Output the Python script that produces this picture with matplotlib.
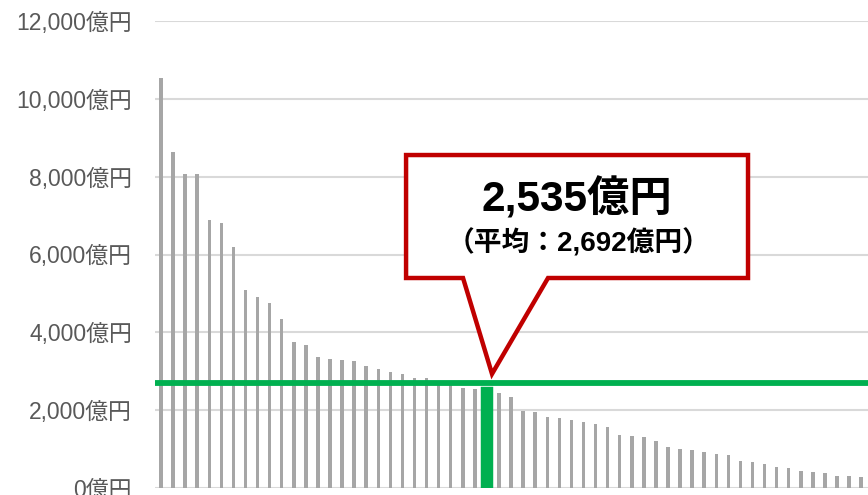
import matplotlib
matplotlib.use("Agg")
import matplotlib.pyplot as plt
from matplotlib.patches import Polygon

plt.rcParams['font.family'] = ['Liberation Sans', 'Noto Sans CJK JP', 'DejaVu Sans']

# values in 億円, sorted descending
values = [10530, 8630, 8070, 8060, 6880, 6800, 6195, 5090, 4920, 4750,
          4345, 3745, 3675, 3360, 3325, 3300, 3255, 3145, 3060, 2975,
          2930, 2835, 2820, 2710, 2650, 2565, 2545, 2535, 2430, 2350,
          1970, 1955, 1825, 1790, 1750, 1690, 1645, 1580, 1365, 1345,
          1305, 1210, 1060, 995, 970, 935, 875, 840, 695, 668,
          617, 540, 514, 437, 411, 386, 300, 300, 283]
highlight_index = 27
highlight_value = 2535
average_value = 2692
y_ticks = [0, 2000, 4000, 6000, 8000, 10000, 12000]
y_tick_labels = [f"{v:,}億円" for v in y_ticks]
label_main = "2,535億円"
label_sub = "（平均：2,692億円）"

fig = plt.figure(figsize=(8.68, 4.95), dpi=100)
ax = fig.add_axes([155/868, 7/495, 713/868, 467/495])

x = list(range(len(values)))
gray_x = [i for i in x if i != highlight_index]
gray_v = [values[i] for i in gray_x]
ax.bar(gray_x, gray_v, width=0.29, color='#A6A6A6', zorder=2)
ax.bar([highlight_index], [highlight_value], width=0.62, color='#00B050',
       edgecolor='#00B050', linewidth=3.2, joinstyle='miter', zorder=3)
ax.axhline(average_value, color='#00B050', linewidth=4.2, zorder=4)

ax.set_xlim(-0.5, 58.57)
ax.set_ylim(0, 12000)
ax.set_yticks(y_ticks)
ax.set_yticklabels(y_tick_labels, color='#595959', fontsize=16.5)
ax.tick_params(axis='y', length=0, pad=16.5)
ax.set_xticks([])
ax.grid(axis='y', color='#D9D9D9', linewidth=1.5, zorder=0)
for s in ax.spines.values():
    s.set_visible(False)

# callout
tip_x = highlight_index + 0.42
tip_y = average_value + 240
box_l, box_r, box_t, box_b = 20.3, 48.63, 8556, 5396
base_l, base_r = 25.02, 32.06
poly = Polygon([(box_l, box_t), (box_r, box_t), (box_r, box_b), (base_r, box_b),
                (tip_x, tip_y), (base_l, box_b), (box_l, box_b)],
               closed=True, facecolor='white', edgecolor='#C00000',
               linewidth=3.2, joinstyle='miter', zorder=5, clip_on=False)
ax.add_patch(poly)
ax.text(34.45, 7430, label_main, ha='center', va='center', fontsize=30.5,
        fontweight='bold', color='black', zorder=6)
ax.text(34.55, 6280, label_sub, ha='center', va='center', fontsize=20,
        fontweight='bold', color='black', zorder=6)

fig.savefig('out.png', dpi=100)
